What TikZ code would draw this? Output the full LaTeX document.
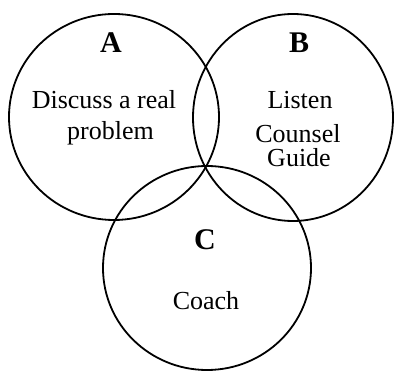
\documentclass[tikz,border=0pt]{standalone}
\usepackage{fontspec}
\setmainfont{Liberation Serif}
\begin{document}
\begin{tikzpicture}[x=1pt,y=1pt,
  ring/.style={draw=black,line width=1.8pt},
  title/.style={anchor=base,inner sep=0pt,font=\fontsize{30}{36}\selectfont\bfseries},
  body/.style={anchor=base,inner sep=0pt,font=\fontsize{26}{31}\selectfont}]
\useasboundingbox (0,0) rectangle (395,371);
\coordinate (cA) at (114,254);
\coordinate (cB) at (293,253.5);
\coordinate (cC) at (207,103);
\draw[ring] (cA) ellipse [x radius=105, y radius=103];
\draw[ring] (cB) ellipse [x radius=100, y radius=103.5];
\draw[ring] (cC) ellipse [x radius=104, y radius=102];
\node[title] (tA) at (111,318) {A};
\node[body] (a1) at (104,262) {Discuss a real};
\node[body] (a2) at (110.5,231) {problem};
\node[title] (tB) at (299,318) {B};
\node[body] (b1) at (300,262) {Listen};
\node[body] (b2) at (298,228) {Counsel};
\node[body] (b3) at (299,204) {Guide};
\node[title] (tC) at (205,121) {C};
\node[body] (c1) at (206,61) {Coach};
\end{tikzpicture}
\end{document}
